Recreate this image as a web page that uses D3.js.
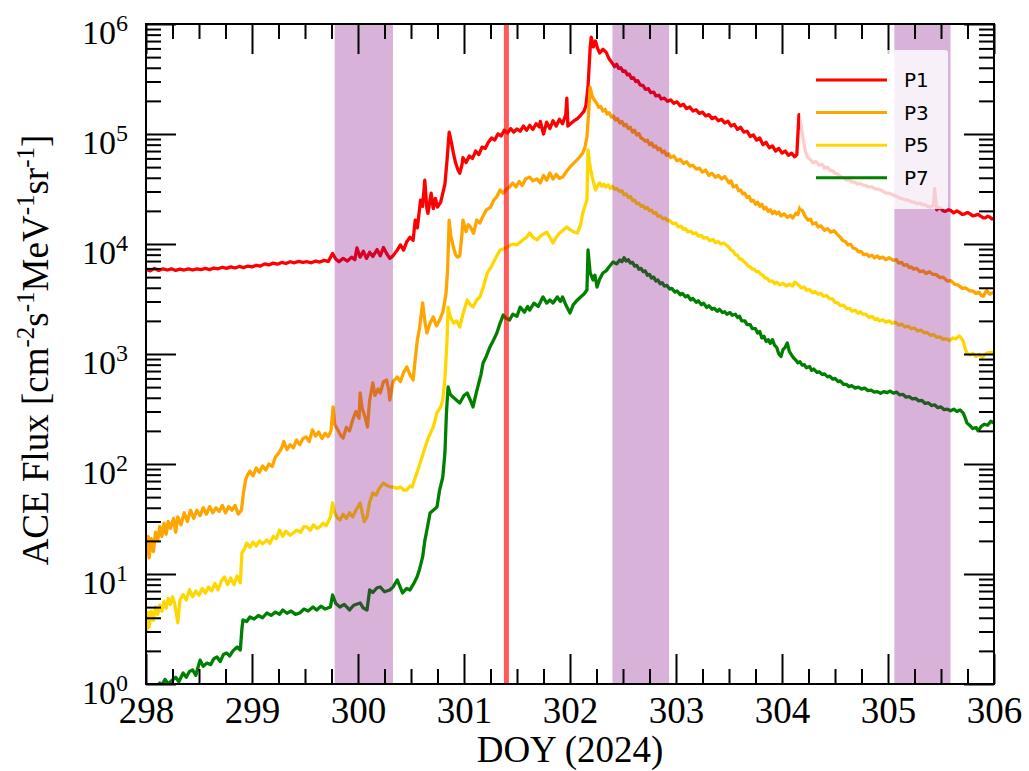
<!DOCTYPE html>
<html><head><meta charset="utf-8">
<script src="https://cdn.jsdelivr.net/npm/d3@7"></script>
<style>body{margin:0;background:#fff}svg{display:block}</style>
</head><body>
<svg id="c" width="1029" height="771"></svg>
<script>
// ---------- data ----------
const xTicks = [298,299,300,301,302,303,304,305,306];
const yTickExps = [0,1,2,3,4,5,6];
const seriesNames = ["P1","P3","P5","P7"];
const seriesColors = ["#ff0000","#ffa500","#ffd700","#008000"];
const bands = [[299.78,300.33],[302.40,302.935],[305.06,305.59]];
const eventDay = 301.40;

const p1 = [
[298.00,5900],[298.04,5700],[298.08,6000],[298.12,5750],[298.16,5950],[298.20,5800],[298.24,5950],[298.28,5750],[298.32,5900],[298.36,5800],[298.40,5950],[298.44,5800],[298.48,5950],[298.52,5850],[298.56,6000],[298.60,5850],[298.64,6050],[298.68,5950],[298.72,6150],[298.76,6000],[298.80,6200],[298.84,6050],[298.88,6250],[298.92,6100],[298.96,6300],[299.00,6200],[299.04,6400],[299.08,6300],[299.12,6600],[299.16,6450],[299.20,6700],[299.24,6550],[299.28,6800],[299.32,6650],[299.36,6900],[299.40,6750],[299.44,6950],[299.48,6800],[299.52,6900],[299.56,6750],[299.60,7000],[299.64,6850],[299.68,7100],[299.72,6950],[299.76,8200],[299.79,7300],[299.82,6900],[299.86,7400],[299.90,7000],[299.94,7600],[299.97,7200],[299.99,9200],[300.02,7600],[300.05,8600],[300.08,7400],[300.11,8400],[300.14,7700],[300.18,8900],[300.21,7800],[300.24,9300],[300.27,8200],[300.30,7400],[300.33,7800],[300.37,8800],[300.40,9800],[300.43,8800],[300.46,10500],[300.49,11500],[300.52,10800],[300.54,16500],[300.56,14000],[300.59,25000],[300.61,22000],[300.63,38000],[300.65,21000],[300.66,19000],[300.69,29000],[300.71,21000],[300.73,26000],[300.75,21700],[300.78,24000],[300.80,29000],[300.82,35000],[300.84,58000],[300.86,104000],[300.88,85000],[300.90,67000],[300.92,55000],[300.94,48000],[300.96,44000],[300.98,52000],[300.99,61000],[301.02,55000],[301.05,63000],[301.08,60000],[301.11,70000],[301.14,65000],[301.17,76000],[301.20,74000],[301.23,84000],[301.26,92000],[301.29,88000],[301.32,100000],[301.35,96000],[301.38,108000],[301.41,102000],[301.44,112000],[301.47,104000],[301.50,111000],[301.53,106000],[301.56,118000],[301.59,108000],[301.62,120000],[301.65,110000],[301.68,124000],[301.71,116000],[301.72,130000],[301.75,100000],[301.78,128000],[301.81,112000],[301.84,132000],[301.87,118000],[301.90,136000],[301.93,124000],[301.96,150000],[301.97,212000],[301.98,118000],[302.01,125000],[302.04,132000],[302.07,138000],[302.10,148000],[302.13,160000],[302.15,180000],[302.17,270000],[302.19,600000],[302.20,760000],[302.22,620000],[302.24,700000],[302.26,600000],[302.28,545000],[302.31,590000],[302.34,555000],[302.37,480000],
[302.40,440000],[302.42,410000],[302.44,430000],[302.46,395000],[302.48,400000],[302.50,370000],[302.52,375000],[302.54,345000],[302.56,350000],[302.58,320000],[302.60,325000],[302.62,300000],[302.64,305000],[302.66,280000],[302.69,275000],[302.71,255000],[302.74,258000],[302.76,238000],[302.79,240000],[302.81,222000],[302.84,225000],[302.86,208000],[302.89,212000],[302.92,198000],[302.95,204000],[302.98,190000],[303.01,196000],[303.04,180000],[303.07,186000],[303.10,170000],[303.13,176000],[303.16,162000],[303.19,166000],[303.22,154000],[303.25,158000],[303.28,146000],[303.31,150000],[303.34,138000],[303.37,142000],[303.40,132000],[303.43,136000],[303.46,126000],[303.49,131000],[303.52,118000],[303.55,122000],[303.58,110000],[303.61,115000],[303.64,104000],[303.67,106000],[303.70,95000],[303.73,98000],[303.76,88000],[303.79,92000],[303.82,80000],[303.85,84000],[303.88,75000],[303.91,78000],[303.94,70000],[303.97,74000],[304.00,67000],[304.03,70000],[304.06,64000],[304.09,67000],[304.12,62000],[304.14,65000],[304.16,150000],[304.18,120000],[304.20,90000],[304.22,70000],[304.24,62000],[304.27,58000],[304.29,55000],[304.32,56000],[304.35,52000],[304.38,53000],[304.40,49000],[304.43,50000],[304.45,47000],[304.48,46000],[304.50,44000],[304.53,43000],[304.55,41000],[304.58,40000],[304.61,38000],[304.64,38500],[304.66,36500],[304.69,36500],[304.71,35000],[304.74,35500],[304.76,34400],[304.79,34000],[304.82,33000],[304.85,33000],[304.87,32000],[304.90,31500],[304.93,31000],[304.96,30000],[304.98,29000],[305.01,29000],[305.04,28000],[305.07,27500],[305.09,26700],[305.12,26000],[305.15,25500],[305.18,25200],[305.20,24800],[305.23,24000],[305.25,24000],[305.28,23200],[305.30,23600],[305.33,22600],[305.35,22800],[305.38,21800],[305.40,21700],[305.43,22500],[305.44,32000],[305.46,20400],[305.48,21500],[305.50,21000],[305.52,20000],[305.54,19800],[305.57,20500],[305.59,20200],[305.62,19200],[305.65,20000],[305.67,19500],[305.70,18600],[305.72,18700],[305.75,19300],[305.77,18900],[305.80,18000],[305.82,18200],[305.85,18600],[305.87,18000],[305.90,17300],[305.92,17300],[305.94,17900],[305.96,17600],[305.98,16900],[306.00,17200]
];

const p3 = [
[298.00,21],[298.01,15],[298.02,22],[298.03,14],[298.05,21],[298.07,16],[298.09,24],[298.11,20],[298.13,27],[298.15,22],[298.17,29],[298.19,23],[298.21,30],[298.23,26],[298.26,32],[298.28,24],[298.30,33],[298.33,28],[298.36,36],[298.39,30],[298.42,38],[298.45,32],[298.48,38],[298.51,34],[298.54,40],[298.57,35],[298.60,41],[298.63,36],[298.66,40],[298.69,37],[298.72,42],[298.75,36],[298.78,41],[298.81,38],[298.84,42],[298.87,35],[298.90,38],[298.92,55],[298.94,72],[298.96,80],[298.98,86],[299.01,78],[299.04,92],[299.07,84],[299.10,96],[299.13,88],[299.16,100],[299.19,95],[299.22,115],[299.25,125],[299.28,140],[299.30,160],[299.33,135],[299.36,150],[299.39,140],[299.42,165],[299.45,150],[299.48,170],[299.51,176],[299.54,160],[299.57,204],[299.60,180],[299.63,195],[299.66,170],[299.69,190],[299.72,178],[299.745,200],[299.765,330],[299.78,230],[299.81,204],[299.84,180],[299.86,172],[299.89,215],[299.92,200],[299.95,251],[299.98,300],[300.01,260],[300.02,442],[300.04,320],[300.07,260],[300.09,217],[300.11,380],[300.14,545],[300.16,420],[300.19,480],[300.21,442],[300.24,560],[300.27,580],[300.29,470],[300.30,382],[300.33,560],[300.37,618],[300.40,560],[300.43,680],[300.46,762],[300.49,650],[300.52,580],[300.54,900],[300.56,1340],[300.58,1700],[300.61,2910],[300.63,2000],[300.65,1550],[300.68,1900],[300.71,2170],[300.74,1800],[300.77,2040],[300.80,2400],[300.83,3500],[300.845,5800],[300.86,16500],[300.875,12000],[300.90,9400],[300.92,8000],[300.94,7600],[300.96,7800],[300.98,12000],[300.99,16500],[301.02,13000],[301.04,15000],[301.06,14300],[301.09,12500],[301.12,16500],[301.15,15500],[301.18,18000],[301.21,20400],[301.25,21500],[301.28,25000],[301.31,27000],[301.34,31000],[301.37,29000],[301.40,31500],[301.43,33000],[301.46,35900],[301.49,33000],[301.52,37000],[301.55,34000],[301.58,39000],[301.62,40600],[301.65,37500],[301.69,39000],[301.72,35900],[301.75,42000],[301.78,38000],[301.81,44200],[301.84,39000],[301.87,43000],[301.90,39500],[301.93,40600],[301.97,46000],[302.00,50100],[302.04,55000],[302.08,60000],[302.12,67200],[302.14,75000],[302.16,94000],[302.18,180000],[302.19,265000],[302.21,220000],[302.23,204000],
[302.25,191000],[302.27,175000],[302.29,178000],[302.31,162000],[302.33,168000],[302.35,152000],[302.37,156000],[302.39,143000],[302.41,146000],[302.43,134000],[302.45,138000],[302.47,126000],[302.49,130000],[302.51,119000],[302.53,122000],[302.55,112000],[302.57,115000],[302.59,104000],[302.61,108000],[302.63,98000],[302.65,101000],[302.67,92000],[302.69,90000],[302.71,86000],[302.73,88000],[302.75,80000],[302.77,83000],[302.79,76000],[302.81,78000],[302.83,72000],[302.85,74000],[302.87,68000],[302.89,70000],[302.91,64000],[302.93,66000],[302.95,61000],[302.98,63000],[303.01,57000],[303.04,59000],[303.07,54000],[303.10,56000],[303.13,51000],[303.16,52000],[303.19,48000],[303.22,49000],[303.25,45000],[303.28,47000],[303.31,42000],[303.34,44000],[303.37,40500],[303.40,42000],[303.43,39000],[303.46,41000],[303.48,38500],[303.50,36000],[303.52,37500],[303.54,33000],[303.57,34000],[303.59,30500],[303.61,31000],[303.63,28500],[303.65,29000],[303.67,26500],[303.69,27000],[303.71,24500],[303.73,25000],[303.75,23000],[303.77,24000],[303.79,22000],[303.81,23000],[303.83,20800],[303.85,21500],[303.87,19800],[303.89,20500],[303.91,18900],[303.93,19800],[303.95,18800],[303.97,19500],[303.99,18000],[304.02,18800],[304.05,17500],[304.08,18200],[304.10,17200],[304.13,19000],[304.15,18500],[304.17,21700],
[304.20,19500],[304.22,17800],[304.245,16500],[304.27,16800],[304.29,15200],[304.32,15600],[304.34,14300],[304.37,14600],[304.40,13300],[304.43,13800],[304.46,12800],[304.49,13200],[304.52,12300],[304.55,11500],[304.57,10800],[304.60,10500],[304.62,9800],[304.65,9900],[304.67,9200],[304.70,9000],[304.72,8500],[304.75,8500],[304.77,8000],[304.80,8100],[304.82,7700],[304.85,7900],[304.87,7500],[304.90,7800],[304.92,7400],[304.95,7600],[304.98,7200],[305.01,7500],[305.05,7100],[305.08,7200],[305.10,6700],[305.13,6800],[305.15,6400],[305.18,6500],[305.20,6100],[305.22,6200],[305.24,5900],[305.27,6000],[305.30,5600],[305.33,5700],[305.36,5400],[305.39,5600],[305.42,5300],[305.45,5300],[305.49,4950],[305.52,5000],[305.56,4600],[305.59,4650],[305.63,4300],[305.66,4250],[305.70,3950],[305.73,4000],[305.77,3750],[305.80,3750],[305.83,3550],[305.86,3650],[305.88,3400],[305.90,3350],[305.93,3800],[305.96,3500],[306.00,3660]
];

const p5 = [
[298.00,4.1],[298.01,3.1],[298.02,4.5],[298.03,3.3],[298.05,4.6],[298.07,3.8],[298.09,5.0],[298.11,4.3],[298.13,5.2],[298.15,4.6],[298.17,5.6],[298.19,4.9],[298.21,6.0],[298.23,5.3],[298.25,6.2],[298.27,5.4],[298.30,3.6],[298.32,5.8],[298.35,6.5],[298.38,5.8],[298.41,7.2],[298.44,6.2],[298.47,7.0],[298.50,6.4],[298.53,7.4],[298.56,6.7],[298.59,7.6],[298.62,7.0],[298.65,8.2],[298.68,7.2],[298.71,8.6],[298.74,9.4],[298.77,8.0],[298.80,9.2],[298.83,8.0],[298.86,9.6],[298.89,8.3],[298.905,15.5],[298.93,17],[298.95,19.1],[298.98,17.5],[299.01,19.5],[299.04,18],[299.07,20],[299.10,18.8],[299.14,20.4],[299.17,19],[299.20,22],[299.23,21],[299.26,25.1],[299.29,22],[299.32,24.5],[299.36,22.5],[299.39,23.6],[299.42,25],[299.46,24],[299.49,27],[299.52,26.7],[299.55,25],[299.58,28],[299.61,26],[299.64,26.7],[299.67,29],[299.70,27.5],[299.74,33],[299.76,44.2],[299.78,36],[299.81,32],[299.83,31],[299.86,35],[299.89,32],[299.92,36],[299.95,33],[299.98,38],[300.02,44.2],[300.04,36],[300.06,30],[300.085,33],[300.11,45],[300.14,54.5],[300.17,52],[300.20,60],[300.24,67.2],[300.27,64],[300.30,62],[300.33,61.8],[300.37,60],[300.40,62],[300.43,58],[300.46,58],[300.49,63],[300.51,61.8],[300.54,75],[300.585,101],[300.62,130],[300.66,170],[300.71,217],[300.745,291],[300.78,330],[300.80,382],[300.82,600],[300.84,1340],[300.85,2670],[300.87,2200],[300.90,1910],[300.93,2000],[300.96,1760],[300.99,2300],[301.03,3100],[301.06,2800],[301.085,2670],[301.12,3100],[301.15,3300],[301.18,4000],[301.22,5450],[301.26,6300],[301.30,7500],[301.34,8820],[301.37,9000],[301.41,9390],[301.44,9800],[301.47,10000],[301.50,9800],[301.53,10400],[301.56,11000],[301.59,11500],[301.62,12600],[301.65,11500],[301.69,10900],[301.72,11800],[301.75,12300],[301.78,12800],[301.81,11500],[301.84,10200],[301.87,11500],[301.90,12500],[301.93,13200],[301.97,14300],[302.00,13500],[302.04,12800],[302.07,12600],[302.10,15000],[302.12,19100],[302.16,25100],[302.17,71600],[302.19,50000],[302.21,40600],[302.24,31000],[302.255,33000],
[302.28,35900],[302.30,33500],[302.32,35000],[302.34,33000],[302.36,34500],[302.38,32000],[302.40,33500],[302.42,31500],[302.44,32000],[302.47,30000],[302.49,30500],[302.51,28000],[302.53,28500],[302.55,26500],[302.57,27000],[302.59,24800],[302.61,25000],[302.63,23300],[302.65,23500],[302.67,22000],[302.69,22300],[302.71,21000],[302.73,21500],[302.75,20000],[302.77,20300],[302.79,19000],[302.81,19300],[302.83,17800],[302.85,18000],[302.88,16900],[302.90,17200],[302.92,16200],[302.94,16400],[302.97,15300],[303.00,15400],[303.02,14300],[303.05,14500],[303.07,13600],[303.09,13800],[303.11,12900],[303.14,13100],[303.16,12400],[303.19,12600],[303.21,11800],[303.24,12000],[303.26,11300],[303.29,11500],[303.32,10700],[303.35,11000],[303.37,10300],[303.40,10500],[303.42,10000],[303.45,10200],[303.48,9700],[303.50,9300],[303.52,8800],[303.54,8600],[303.56,8000],[303.58,7900],[303.60,7300],[303.62,7300],[303.64,6900],[303.66,6700],[303.68,6300],[303.70,6200],[303.72,5900],[303.74,5900],[303.76,5600],[303.78,5600],[303.80,5300],[303.82,5200],[303.84,4900],[303.86,4900],[303.88,4600],[303.91,4600],[303.93,4350],[303.95,4500],[303.98,4250],[304.01,4400],[304.04,4150],[304.07,4300],[304.10,4150],[304.12,4500],[304.14,4350],[304.16,4200],[304.18,4000],[304.21,4050],[304.23,3800],[304.26,3850],[304.29,3600],[304.31,3700],[304.34,3500],[304.37,3550],[304.39,3350],[304.42,3400],[304.45,3180],[304.48,3150],[304.50,2950],[304.53,2900],[304.55,2750],[304.58,2780],[304.61,2580],[304.64,2600],[304.66,2450],[304.69,2500],[304.72,2350],[304.74,2420],[304.76,2300],[304.79,2300],[304.82,2150],[304.85,2200],[304.88,2050],[304.90,2100],[304.92,2000],[304.95,2050],[304.98,1950],[305.01,2000],[305.04,1900],[305.07,1950],[305.10,1830],[305.13,1870],[305.16,1760],[305.19,1790],[305.22,1700],[305.25,1720],[305.28,1620],[305.31,1650],[305.34,1560],[305.37,1570],[305.40,1480],[305.43,1500],[305.46,1420],[305.49,1430],[305.52,1360],[305.55,1380],[305.58,1320],[305.61,1400],[305.64,1370],[305.67,1460],[305.69,1400],[305.71,1300],[305.73,1100],[305.745,1020],[305.77,980],[305.80,1010],[305.83,950],[305.86,990],[305.89,940],[305.92,1000],[305.95,1030],[306.00,1040]
];

const p7 = [
[298.00,0.75],[298.04,0.85],[298.08,0.8],[298.11,0.95],[298.13,1.02],[298.15,0.98],[298.18,1.1],[298.21,1.0],[298.25,1.09],[298.28,1.15],[298.31,1.05],[298.35,1.26],[298.38,1.15],[298.41,1.3],[298.44,1.34],[298.47,1.2],[298.51,1.65],[298.54,1.45],[298.575,1.55],[298.61,1.5],[298.64,1.7],[298.67,1.76],[298.70,1.6],[298.73,1.85],[298.76,1.91],[298.79,1.8],[298.82,2.0],[298.86,2.17],[298.89,2.04],[298.905,3.2],[298.915,3.82],[298.95,3.7],[298.98,4.06],[299.02,3.9],[299.06,4.2],[299.10,4.0],[299.14,4.42],[299.18,4.2],[299.22,4.5],[299.26,4.3],[299.29,4.71],[299.33,4.4],[299.37,4.6],[299.41,4.3],[299.45,4.42],[299.49,4.8],[299.53,4.6],[299.575,5.01],[299.61,4.7],[299.65,5.1],[299.69,4.8],[299.74,5.01],[299.76,6.44],[299.79,5.4],[299.83,5.01],[299.87,5.3],[299.92,4.71],[299.96,5.2],[300.02,5.45],[300.05,4.9],[300.085,4.71],[300.11,7.16],[300.14,6.8],[300.18,7.5],[300.21,7.62],[300.25,6.9],[300.30,7.16],[300.33,7.6],[300.37,8.82],[300.42,6.72],[300.46,7.4],[300.49,7.16],[300.52,8.0],[300.557,9.39],[300.58,11],[300.61,14.3],[300.63,20],[300.65,25.1],[300.68,35.9],[300.71,38],[300.745,40.6],[300.77,58],[300.80,76.2],[300.82,126],[300.835,300],[300.85,501],[300.87,430],[300.896,406],[300.93,380],[300.96,359],[301.00,420],[301.03,442],[301.06,380],[301.085,330],[301.11,420],[301.13,501],[301.16,650],[301.18,828],[301.21,950],[301.245,1160],[301.28,1350],[301.31,1550],[301.34,1900],[301.37,2260],[301.40,2100],[301.43,2040],[301.46,2300],[301.50,2200],[301.53,2670],[301.57,2400],[301.60,2700],[301.62,2510],[301.66,2900],[301.70,2700],[301.745,3300],[301.78,2900],[301.81,3100],[301.84,2910],[301.88,3300],[301.91,3000],[301.93,3300],[301.96,2800],[302.00,2360],[302.03,2800],[302.07,3100],[302.10,3300],[302.13,3500],[302.16,3820],[302.17,8820],[302.19,5500],[302.217,4710],[302.235,5200],[302.255,4060],[302.28,4800],[302.31,5450],[302.34,5700],[302.37,6200],[302.406,6860],[302.44,6600],
[302.47,7160],[302.49,6900],[302.51,7500],[302.53,7000],[302.55,7200],[302.57,6700],[302.59,6800],[302.61,6300],[302.63,6400],[302.65,5900],[302.67,6000],[302.69,5600],[302.71,5700],[302.73,5200],[302.75,5300],[302.77,4900],[302.79,5000],[302.81,4600],[302.83,4700],[302.85,4350],[302.87,4450],[302.89,4150],[302.915,4200],[302.94,3900],[302.96,3950],[302.99,3650],[303.01,3750],[303.04,3450],[303.06,3550],[303.09,3300],[303.11,3400],[303.14,3100],[303.16,3200],[303.19,2950],[303.21,3050],[303.24,2800],[303.26,2900],[303.29,2650],[303.31,2750],[303.34,2550],[303.36,2600],[303.39,2450],[303.41,2550],[303.44,2380],[303.46,2420],[303.48,2300],[303.51,2380],[303.53,2250],[303.56,2300],[303.58,2150],[303.60,2200],[303.62,2000],[303.65,2000],[303.67,1850],[303.70,1850],[303.72,1700],[303.75,1700],[303.77,1550],[303.79,1600],[303.81,1400],[303.83,1450],[303.85,1300],[303.87,1350],[303.89,1250],[303.91,1350],[303.93,1200],[303.95,1150],[303.97,1000],[303.99,950],[304.01,1100],[304.03,1150],[304.05,1260],[304.07,1050],[304.09,980],[304.11,920],[304.13,880],[304.15,830],[304.17,850],[304.19,790],[304.21,800],[304.23,750],[304.26,770],[304.28,710],[304.30,730],[304.33,680],[304.35,690],[304.38,650],[304.40,660],[304.43,620],[304.45,630],[304.48,590],[304.50,600],[304.53,560],[304.55,570],[304.58,530],[304.61,530],[304.63,505],[304.66,515],[304.69,490],[304.72,500],[304.75,480],[304.78,490],[304.81,465],[304.84,470],[304.87,450],[304.90,455],[304.93,440],[304.96,455],[304.99,445],[305.02,460],[305.05,440],[305.08,451],[305.11,425],[305.14,430],[305.17,405],[305.20,410],[305.23,390],[305.26,395],[305.29,375],[305.32,378],[305.35,355],[305.38,360],[305.41,340],[305.44,345],[305.47,325],[305.50,330],[305.53,312],[305.56,315],[305.59,305],[305.62,315],[305.65,300],[305.68,310],[305.71,290],[305.73,260],[305.745,236],[305.77,225],[305.80,210],[305.83,215],[305.85,200],[305.88,220],[305.91,230],[305.94,225],[305.97,245],[306.00,236]
];
const seriesData = [p1,p3,p5,p7];

// ---------- layout ----------
const L=146, R=994, T=24, B=684;
const svg = d3.select("#c");
const x = d3.scaleLinear().domain([298,306]).range([L,R]);
const y = d3.scaleLog().domain([1,1e6]).range([B,T]);

svg.append("defs").append("clipPath").attr("id","clip")
  .append("rect").attr("x",L).attr("y",T).attr("width",R-L).attr("height",B-T);

const line = d3.line().x(d=>x(d[0])).y(d=>y(d[1]));
const gLines = svg.append("g").attr("clip-path","url(#clip)");
seriesData.forEach((s,i)=>{
  gLines.append("path").datum(s).attr("d",line)
    .attr("fill","none").attr("stroke",seriesColors[i])
    .attr("stroke-width",3.3).attr("stroke-linejoin","round");
});

// shaded intervals
svg.append("g").selectAll("rect").data(bands).join("rect")
  .attr("x",d=>x(d[0])).attr("width",d=>x(d[1])-x(d[0]))
  .attr("y",T).attr("height",B-T)
  .attr("fill","#800080").attr("fill-opacity",0.3);

// event line
svg.append("line").attr("x1",x(eventDay)).attr("x2",x(eventDay))
  .attr("y1",T).attr("y2",B).attr("stroke","#ff0000").attr("stroke-opacity",0.65)
  .attr("stroke-width",5);

// ---------- axes ----------
const minorX = d3.range(298,306.001,0.25).filter(v=>Math.abs(v-Math.round(v))>1e-6);
const minorY = [];
for(let e=0;e<6;e++) for(let k=2;k<=9;k++) minorY.push(k*Math.pow(10,e));
const majorY = yTickExps.map(e=>Math.pow(10,e));

function styleAxis(g){
  g.select(".domain").remove();
  g.selectAll(".tick line").attr("stroke","#000").attr("stroke-width",2);
}
svg.append("g").attr("transform",`translate(0,${B})`)
  .call(d3.axisBottom(x).tickValues(xTicks).tickSize(-30).tickFormat(d=>String(d)))
  .call(styleAxis)
  .call(g=>g.selectAll("text").attr("y",39).attr("dy",null)
    .attr("font-family","'Liberation Serif',serif").attr("font-size",37).attr("fill","#000"));
svg.append("g").attr("transform",`translate(0,${B})`)
  .call(d3.axisBottom(x).tickValues(minorX).tickSize(-15).tickFormat(""))
  .call(styleAxis);
svg.append("g").attr("transform",`translate(0,${T})`)
  .call(d3.axisTop(x).tickValues(xTicks).tickSize(-30).tickFormat(""))
  .call(styleAxis);
svg.append("g").attr("transform",`translate(0,${T})`)
  .call(d3.axisTop(x).tickValues(minorX).tickSize(-15).tickFormat(""))
  .call(styleAxis);

const gyl = svg.append("g").attr("transform",`translate(${L},0)`)
  .call(d3.axisLeft(y).tickValues(majorY).tickSize(-30).tickFormat(""))
  .call(styleAxis);
gyl.selectAll(".tick text").remove();
gyl.selectAll(".tick").each(function(d){
  const t = d3.select(this).append("text")
    .attr("x",-18).attr("y",19.5).attr("text-anchor","end")
    .attr("font-family","'Liberation Serif',serif").attr("fill","#000");
  t.append("tspan").attr("font-size",34).text("10");
  t.append("tspan").attr("font-size",24).attr("dy",-13).text(String(Math.round(Math.log10(d))));
});
svg.append("g").attr("transform",`translate(${L},0)`)
  .call(d3.axisLeft(y).tickValues(minorY).tickSize(-15).tickFormat(""))
  .call(styleAxis);
svg.append("g").attr("transform",`translate(${R},0)`)
  .call(d3.axisRight(y).tickValues(majorY).tickSize(-30).tickFormat(""))
  .call(styleAxis);
svg.append("g").attr("transform",`translate(${R},0)`)
  .call(d3.axisRight(y).tickValues(minorY).tickSize(-15).tickFormat(""))
  .call(styleAxis);

svg.append("rect").attr("x",L).attr("y",T).attr("width",R-L).attr("height",B-T)
  .attr("fill","none").attr("stroke","#000").attr("stroke-width",2);

// axis titles
svg.append("text").attr("x",(L+R)/2).attr("y",762).attr("text-anchor","middle")
  .attr("font-family","'Liberation Serif',serif").attr("font-size",37).attr("fill","#000")
  .text("DOY (2024)");

const yt = svg.append("text").attr("transform",`translate(48,${(T+B)/2-4}) rotate(-90)`)
  .attr("text-anchor","middle").attr("font-family","'Liberation Serif',serif")
  .attr("font-size",37).attr("fill","#000");
const parts = [["ACE Flux [cm",0],["-2",1],["s",0],["-1",1],["MeV",0],["-1",1],["sr",0],["-1",1],["]",0]];
let prevSup = 0;
parts.forEach(([txt,sup])=>{
  const dy = sup && !prevSup ? -14 : (!sup && prevSup ? 14 : 0);
  const ts = yt.append("tspan").text(txt).attr("font-size",sup?25:37);
  if(dy) ts.attr("dy",dy);
  prevSup = sup;
});

// legend
const lg = svg.append("g");
lg.append("rect").attr("x",800).attr("y",50).attr("width",148).attr("height",159)
  .attr("rx",3).attr("fill","#fff").attr("fill-opacity",0.8);
seriesNames.forEach((n,i)=>{
  const yy = 80 + i*32.6;
  lg.append("line").attr("x1",816).attr("x2",887).attr("y1",yy).attr("y2",yy)
    .attr("stroke",seriesColors[i]).attr("stroke-width",3);
  lg.append("text").attr("x",904).attr("y",yy).attr("dy","0.36em")
    .attr("font-family","'DejaVu Sans',sans-serif").attr("font-size",20).attr("fill","#000").text(n);
});
</script>
</body></html>
